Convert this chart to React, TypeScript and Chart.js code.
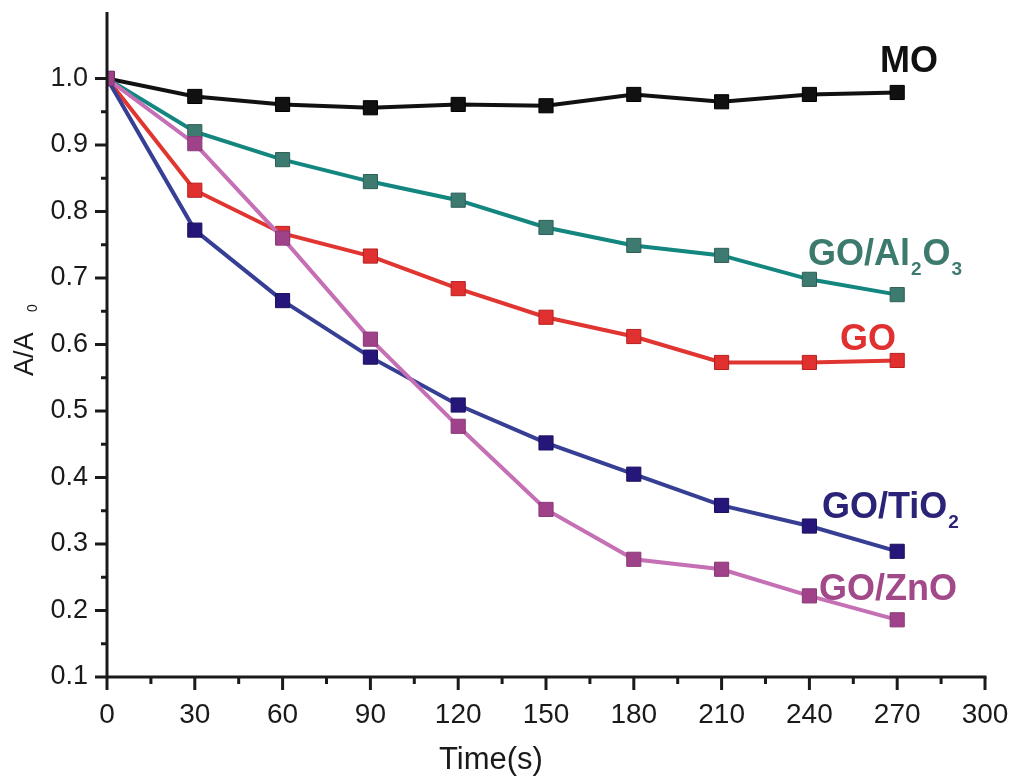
import React, { useEffect, useRef } from "react";
import { Chart, registerables } from "chart.js";

Chart.register(...registerables);

const times = [0, 30, 60, 90, 120, 150, 180, 210, 240, 270];
const moValues = [1.0, 0.973, 0.961, 0.956, 0.961, 0.959, 0.976, 0.965, 0.976, 0.979];
const goAl2O3Values = [1.0, 0.92, 0.878, 0.845, 0.817, 0.776, 0.749, 0.734, 0.698, 0.675];
const goValues = [1.0, 0.832, 0.767, 0.733, 0.684, 0.641, 0.612, 0.573, 0.573, 0.576];
const goTiO2Values = [1.0, 0.772, 0.666, 0.581, 0.509, 0.452, 0.405, 0.358, 0.327, 0.289];
const goZnOValues = [1.0, 0.902, 0.76, 0.608, 0.477, 0.352, 0.277, 0.262, 0.222, 0.186];

const xTicks = [0, 30, 60, 90, 120, 150, 180, 210, 240, 270, 300];
const yTicks = [0.1, 0.2, 0.3, 0.4, 0.5, 0.6, 0.7, 0.8, 0.9, 1.0];

type Part = { t: string; sub?: boolean };
const seriesLabels: { parts: Part[]; color: string; x: number; y: number }[] = [
  { parts: [{ t: "MO" }], color: "#111111", x: 880, y: 72 },
  { parts: [{ t: "GO/Al" }, { t: "2", sub: true }, { t: "O" }, { t: "3", sub: true }], color: "#3d7a6e", x: 808, y: 265 },
  { parts: [{ t: "GO" }], color: "#e03030", x: 840, y: 350 },
  { parts: [{ t: "GO/TiO" }, { t: "2", sub: true }], color: "#2a2378", x: 822, y: 518 },
  { parts: [{ t: "GO/ZnO" }], color: "#a2498a", x: 819, y: 600 },
];

const mk = (label: string, data: number[], line: string, fill: string, border: string) => ({
  label,
  data: times.map((t, i) => ({ x: t, y: data[i] })),
  borderColor: line,
  backgroundColor: fill,
  pointBackgroundColor: fill,
  pointBorderColor: border,
  pointBorderWidth: 1,
  pointStyle: "rect" as const,
  pointRadius: 10,
  borderWidth: 4,
  tension: 0,
});

const axesPlugin = {
  id: "customAxes",
  afterDraw(chart: any) {
    const ctx = chart.ctx;
    const xs = chart.scales.x;
    const ys = chart.scales.y;
    const { left, right, top, bottom } = chart.chartArea;
    ctx.save();
    ctx.strokeStyle = "#1a1a1a";
    ctx.lineWidth = 3;
    ctx.lineCap = "butt";
    ctx.beginPath();
    ctx.moveTo(left, top);
    ctx.lineTo(left, bottom + 1.5);
    ctx.moveTo(left - 1.5, bottom);
    ctx.lineTo(right + 1.5, bottom);
    ctx.stroke();
    for (let v = 0; v <= 300; v += 15) {
      const px = xs.getPixelForValue(v);
      const major = v % 30 === 0;
      ctx.beginPath();
      ctx.moveTo(px, bottom);
      ctx.lineTo(px, bottom + (major ? 13 : 7));
      ctx.stroke();
    }
    for (let k = 2; k <= 20; k++) {
      const v = k * 0.05;
      const py = ys.getPixelForValue(v);
      const major = k % 2 === 0;
      ctx.beginPath();
      ctx.moveTo(left, py);
      ctx.lineTo(left - (major ? 12 : 6), py);
      ctx.stroke();
    }
    ctx.fillStyle = "#1a1a1a";
    ctx.font = "31px 'Liberation Sans Narrow', 'Liberation Sans', Arial, sans-serif";
    ctx.textAlign = "center";
    ctx.textBaseline = "alphabetic";
    ctx.fillText("Time(s)", 491, 769);
    ctx.save();
    ctx.translate(33, 376);
    ctx.rotate(-Math.PI / 2);
    ctx.textAlign = "left";
    ctx.font = "27px 'Liberation Sans', Arial, sans-serif";
    ctx.fillText("A/A", 0, 0);
    const w = ctx.measureText("A/A ").width;
    ctx.font = "14px 'Liberation Sans', Arial, sans-serif";
    ctx.fillText("0", w + 13, 4);
    ctx.restore();
    for (const lab of seriesLabels) {
      let x = lab.x;
      ctx.fillStyle = lab.color;
      ctx.textAlign = "left";
      for (const p of lab.parts) {
        if (p.sub) {
          ctx.font = "bold 19px 'Liberation Sans', Arial, sans-serif";
          ctx.fillText(p.t, x + 1, lab.y + 10);
          x += ctx.measureText(p.t).width + 2;
        } else {
          ctx.font = "bold 36px 'Liberation Sans', Arial, sans-serif";
          ctx.fillText(p.t, x, lab.y);
          x += ctx.measureText(p.t).width;
        }
      }
    }
    ctx.restore();
  },
};

const zeroPad = (s: any) => {
  s.paddingTop = 0;
  s.paddingBottom = 0;
  s.paddingLeft = 0;
  s.paddingRight = 0;
};

export default function App() {
  const ref = useRef<HTMLCanvasElement | null>(null);
  useEffect(() => {
    if (!ref.current) return;
    const chart = new Chart(ref.current, {
      type: "line",
      data: {
        datasets: [
          mk("GO/ZnO", goZnOValues, "#c56fb5", "#a0428a", "#8a3a78"),
          mk("GO/TiO2", goTiO2Values, "#363f94", "#25177a", "#1c1060"),
          mk("GO", goValues, "#e03530", "#e03030", "#b82020"),
          mk("GO/Al2O3", goAl2O3Values, "#12867f", "#3d7a70", "#2e6058"),
          mk("MO", moValues, "#111111", "#111111", "#000000"),
        ],
      },
      options: {
        responsive: false,
        animation: false,
        layout: { padding: { left: 0, right: 31, top: 12, bottom: 0 } },
        plugins: { legend: { display: false }, tooltip: { enabled: false } },
        scales: {
          x: {
            type: "linear",
            min: 0,
            max: 300,
            afterBuildTicks: (s: any) => {
              s.ticks = xTicks.map((v) => ({ value: v }));
            },
            afterFit: (s: any) => {
              s.height = 105;
              zeroPad(s);
            },
            grid: { display: false, drawTicks: false },
            border: { display: false },
            ticks: {
              padding: 21,
              color: "#1a1a1a",
              maxRotation: 0,
              autoSkip: false,
              font: { family: "'Liberation Sans Narrow', 'Liberation Sans', Arial, sans-serif", size: 28 },
              callback: (v: any) => String(v),
            },
          },
          y: {
            type: "linear",
            min: 0.1,
            max: 1.1,
            afterBuildTicks: (s: any) => {
              s.ticks = yTicks.map((v) => ({ value: v }));
            },
            afterFit: (s: any) => {
              s.width = 107;
              zeroPad(s);
            },
            grid: { display: false, drawTicks: false },
            border: { display: false },
            ticks: {
              padding: 19,
              color: "#1a1a1a",
              autoSkip: false,
              font: { family: "'Liberation Sans', Arial, sans-serif", size: 27 },
              callback: (v: any) => Number(v).toFixed(1),
            },
          },
        },
      },
      plugins: [axesPlugin],
    });
    return () => chart.destroy();
  }, []);
  return (
    <div style={{ position: "fixed", left: 0, top: 0, width: 1016, height: 782, background: "#fff" }}>
      <canvas ref={ref} width={1016} height={782} />
    </div>
  );
}
